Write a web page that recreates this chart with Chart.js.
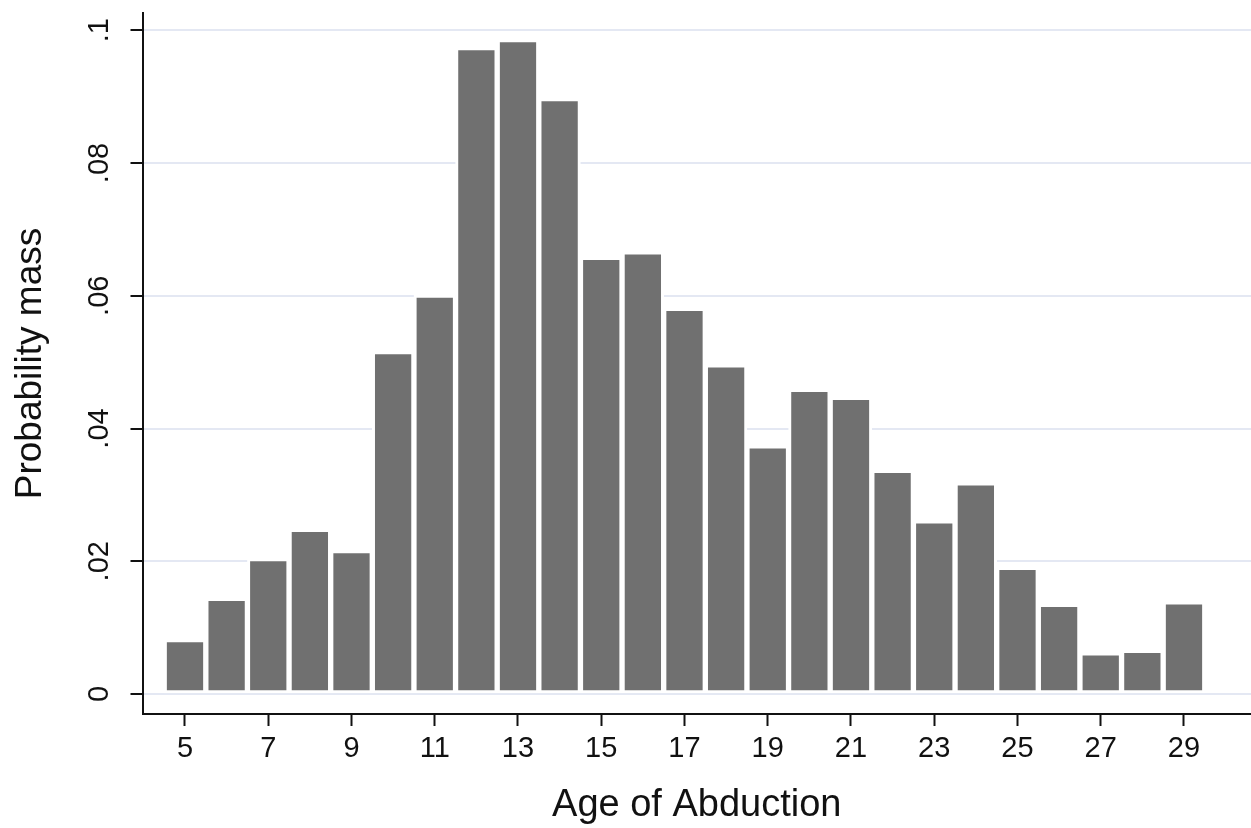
<!DOCTYPE html>
<html>
<head>
<meta charset="utf-8">
<script src="https://cdn.jsdelivr.net/npm/chart.js@4"></script>
<style>
  html, body { margin: 0; padding: 0; background: #fff; overflow: hidden; }
  canvas { display: block; }
</style>
</head>
<body>
<canvas id="histChart" width="1251" height="828"></canvas>
<script>
const ages = [5, 6, 7, 8, 9, 10, 11, 12, 13, 14, 15, 16, 17, 18, 19, 20, 21, 22, 23, 24, 25, 26, 27, 28, 29];
const probMass = [0.0082, 0.0144, 0.0204, 0.0248, 0.0216, 0.0516, 0.0601, 0.0974, 0.0986, 0.0897,
                  0.0658, 0.0666, 0.0581, 0.0496, 0.0374, 0.0459, 0.0447, 0.0337, 0.0261, 0.0318,
                  0.0191, 0.0135, 0.0062, 0.0066, 0.0139];
const xTicks = [5, 7, 9, 11, 13, 15, 17, 19, 21, 23, 25, 27, 29];
const yTicks = [0, 0.02, 0.04, 0.06, 0.08, 0.1];
const yTickLabels = ['0', '.02', '.04', '.06', '.08', '.1'];

const FONT = '"Liberation Sans", Arial, sans-serif';
const ctx = document.getElementById('histChart').getContext('2d');

// y tick labels are rotated like in Stata, so we draw them ourselves
const rotatedYLabels = {
  id: 'rotatedYLabels',
  afterDraw(chart) {
    const y = chart.scales.y;
    const c = chart.ctx;
    c.save();
    c.font = '29px ' + FONT;
    c.fillStyle = '#111';
    c.textAlign = 'center';
    c.textBaseline = 'middle';
    yTicks.forEach((v, i) => {
      c.save();
      c.translate(100, y.getPixelForValue(v));
      c.rotate(-Math.PI / 2);
      c.fillText(yTickLabels[i], 0, 0);
      c.restore();
    });
    c.restore();
  }
};

const data = {
  datasets: [{
    label: 'Probability mass',
    data: ages.map((a, i) => ({ x: a, y: probMass[i] })),
    backgroundColor: '#707070',
    borderColor: '#ffffff',
    borderWidth: 3,
    borderSkipped: false,
    barPercentage: 1,
    categoryPercentage: 1
  }]
};

const options = {
  responsive: false,
  animation: false,
  layout: { padding: { top: 13, right: 0, left: 0, bottom: 0 } },
  plugins: { legend: { display: false }, tooltip: { enabled: false } },
  scales: {
    x: {
      type: 'linear',
      offset: false,
      min: 3.979,
      max: 30.61,
      afterBuildTicks: (s) => { s.ticks = xTicks.map(v => ({ value: v })); },
      afterFit: (s) => { s.height = 114; },
      grid: { offset: false, drawOnChartArea: false, tickLength: 12, tickColor: '#111', tickWidth: 2 },
      border: { color: '#111', width: 2 },
      ticks: {
        padding: 6,
        color: '#111',
        font: { family: FONT, size: 29 },
        maxRotation: 0,
        callback: (v) => String(v)
      },
      title: {
        display: true,
        text: 'Age of Abduction',
        color: '#111',
        font: { family: FONT, size: 38, lineHeight: 1 },
        padding: { top: 0, bottom: 3 }
      }
    },
    y: {
      min: -0.00301,
      max: 0.1026,
      afterBuildTicks: (s) => { s.ticks = yTicks.map(v => ({ value: v })); },
      afterFit: (s) => { s.width = 142.5; },
      grid: { color: '#e4e8f3', lineWidth: 2, tickLength: 12, tickColor: '#111', tickWidth: 2 },
      border: { color: '#111', width: 2 },
      ticks: { display: false },
      title: {
        display: true,
        text: 'Probability mass',
        color: '#111',
        font: { family: FONT, size: 37, lineHeight: 1 },
        padding: { top: 12, bottom: 0 }
      }
    }
  }
};

const histChart = new Chart(ctx, {
  type: 'bar',
  data: data,
  options: options,
  plugins: [rotatedYLabels]
});
</script>
</body>
</html>
